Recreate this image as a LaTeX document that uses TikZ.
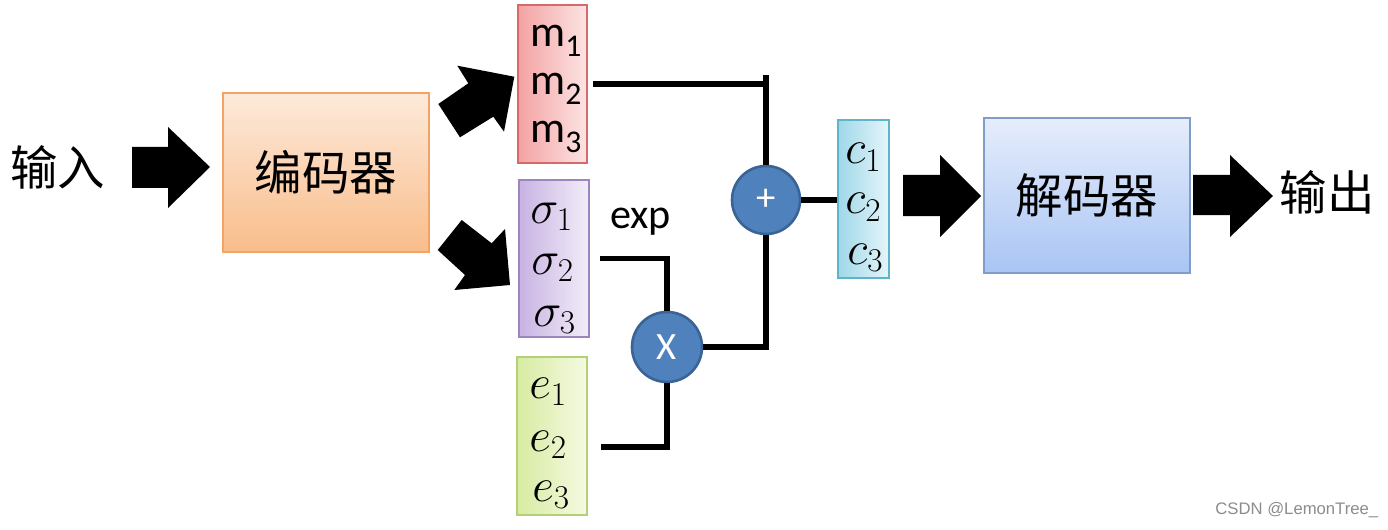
\RequirePackage{fix-cm}
\documentclass[tikz,border=0pt]{standalone}
\usepackage{fontspec}
\newfontfamily\cjk{Noto Sans CJK SC}
\newfontfamily\carl{Carlito}
\newfontfamily\wmfont{Liberation Sans}
\definecolor{encT}{HTML}{FDEADB}
\definecolor{encBo}{HTML}{F9BD8A}
\definecolor{encL}{HTML}{F2A466}
\definecolor{decT}{HTML}{E6EDFB}
\definecolor{decBo}{HTML}{A9C5F4}
\definecolor{decL}{HTML}{7F9DC9}
\definecolor{mL}{HTML}{F3A2A2}
\definecolor{mR}{HTML}{FDE4E4}
\definecolor{mB}{HTML}{D46A6A}
\definecolor{sL}{HTML}{C8B3E2}
\definecolor{sR}{HTML}{F2EDF9}
\definecolor{sB}{HTML}{9B86C0}
\definecolor{eL}{HTML}{D7EBA2}
\definecolor{eR}{HTML}{F5FAE2}
\definecolor{eB}{HTML}{B3CF77}
\definecolor{cL}{HTML}{9FD8E8}
\definecolor{cR}{HTML}{E5F5FA}
\definecolor{cB}{HTML}{5FB3CA}
\definecolor{circF}{HTML}{4F81BD}
\definecolor{circB}{HTML}{3A6496}
\newcommand\msub[1]{\raisebox{-5.5pt}{\fontsize{18}{18}\selectfont #1}}
\begin{document}
\begin{tikzpicture}[x=0.02cm,y=-0.02cm,
  box/.style={draw, line width=1pt, inner sep=0pt},
  wire/.style={line width=3.4pt, line join=miter},
  cjktxt/.style={font=\cjk\fontsize{27}{30}\selectfont, inner sep=0pt},
  vec/.style={font=\fontsize{27}{30}\selectfont, inner sep=0pt, anchor=base west},
  mlab/.style={font=\carl\fontsize{25}{28}\selectfont, inner sep=0pt, anchor=base west},
  op/.style={circle, draw=circB, line width=1.5pt, fill=circF, inner sep=0pt, text=white, font=\carl\fontsize{22}{24}\selectfont}
]
\useasboundingbox (0,0) rectangle (1388,530);

% boxes
\node[box, draw=encL, top color=encT, bottom color=encBo, minimum width=4.12cm, minimum height=3.18cm, cjktxt] (enc) at (326,172.5) {编码器};
\node[box, draw=decL, top color=decT, bottom color=decBo, minimum width=4.12cm, minimum height=3.1cm, cjktxt] (dec) at (1087,195.5) {解码器};
\node[box, draw=mB, left color=mL, right color=mR, minimum width=1.38cm, minimum height=3.16cm] (mbox) at (552.5,84) {};
\node[box, draw=sB, left color=sL, right color=sR, minimum width=1.4cm, minimum height=3.14cm] (sbox) at (554,258.5) {};
\node[box, draw=eB, left color=eL, right color=eR, minimum width=1.4cm, minimum height=3.16cm] (ebox) at (552,436) {};
\node[box, draw=cB, left color=cL, right color=cR, minimum width=1.02cm, minimum height=3.16cm] (cbox) at (863.5,199) {};

% labels
\node[cjktxt] (in) at (57.5,167) {输入};
\node[cjktxt] (out) at (1327,192) {输出};
\node[mlab] (m1) at (530,47) {m\msub{1}};
\node[mlab] (m2) at (530,95) {m\msub{2}};
\node[mlab] (m3) at (530,143) {m\msub{3}};
\node[vec] (s1) at (530,223) {$\sigma_1$};
\node[vec] (s2) at (531,274) {$\sigma_2$};
\node[vec] (s3) at (533,326) {$\sigma_3$};
\node[vec] (e1) at (529,398) {$e_1$};
\node[vec] (e2) at (529,451) {$e_2$};
\node[vec] (e3) at (532,501) {$e_3$};
\node[vec] (c1) at (845,164) {$c_1$};
\node[vec] (c2) at (845,214) {$c_2$};
\node[vec] (c3) at (847,264) {$c_3$};
\node[font=\carl\fontsize{24}{26}\selectfont, anchor=base west, inner sep=0pt] (exp) at (610,228) {exp};

% operators
\node[op, minimum size=1.36cm] (plus) at (766,200) {+};
\node[op, minimum size=1.4cm] (times) at (667,347) {X};

% wires
\draw[wire] ([xshift=0.1cm]mbox.east) -- (plus.north |- mbox.east);
\draw[wire] (plus.north) -- ([yshift=0.18cm]plus.north |- mbox.east);
\draw[wire] (plus.east) -- (plus.east -| cbox.west);
\draw[wire] (plus.south) |- (times.east);
\draw[wire] ([xshift=0.2cm]sbox.east) -| (times.north);
\draw[wire] ([xshift=0.26cm,yshift=-0.22cm]ebox.east) -| (times.south);

% block arrows
\fill (132,147) -- (168,147) -- (168,127) -- (210,167) -- (168,208) -- (168,188) -- (132,188) -- cycle;
\fill (903,175) -- (940,175) -- (940,155) -- (981,196) -- (940,237) -- (940,216) -- (903,216) -- cycle;
\fill (1193,175) -- (1230,175) -- (1230,155) -- (1273,196) -- (1230,237) -- (1230,215) -- (1193,215) -- cycle;
\fill (438.3,104) -- (468.3,83.3) -- (457.3,65.7) -- (514.3,76.7) -- (504,131.7) -- (493.3,116.7) -- (460,137.3) -- cycle;
\fill (461.7,220) -- (491.7,243.3) -- (505,229) -- (510,285) -- (454.3,290) -- (465,275) -- (437.7,250) -- cycle;

% watermark
\node[font=\wmfont\fontsize{9.5}{10}\selectfont, text=black!45, anchor=base west, inner sep=0pt] (wm) at (1215,514) {CSDN @LemonTree\_};
\end{tikzpicture}
\end{document}
